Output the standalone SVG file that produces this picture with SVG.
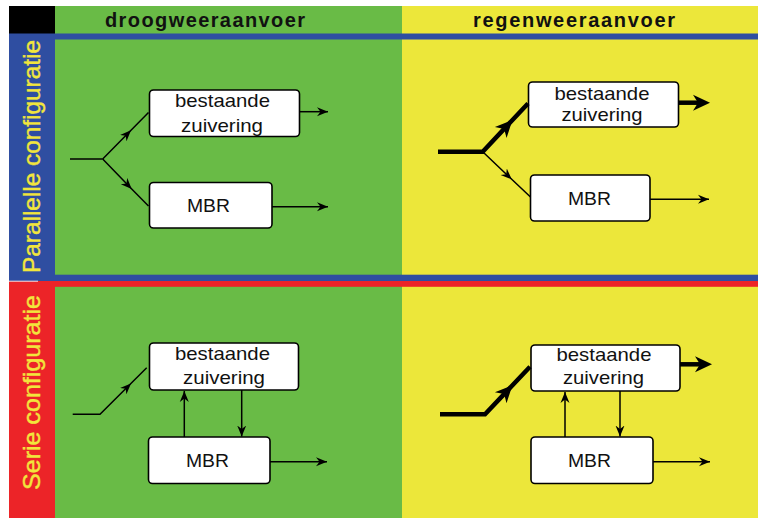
<svg xmlns="http://www.w3.org/2000/svg" width="758" height="518" viewBox="0 0 758 518">
  <style>
    .box { fill: #ffffff; stroke: #000000; stroke-width: 1.6; }
    .lbl { font-family: "Liberation Sans", Arial, sans-serif; font-size: 19px; fill: #111111; }
    .hdr { font-family: "Liberation Sans", Arial, sans-serif; font-size: 20px; font-weight: bold; fill: #111111; }
    .side { font-family: "Liberation Sans", Arial, sans-serif; font-size: 24px; fill: #f2e63c; stroke: #f2e63c; stroke-width: 0.4; }
    .thin { fill: none; stroke: #000000; stroke-width: 1.5; }
    .thick { fill: none; stroke: #000000; stroke-width: 4.5; stroke-linejoin: miter; }
    .guide { fill: none; stroke: none; }
  </style>
  <defs>
    <marker id="arr" markerUnits="userSpaceOnUse" markerWidth="12" markerHeight="10" refX="11" refY="5" orient="auto" viewBox="0 0 12 10">
      <path d="M0,0.5 L11,5 L0,9.5 L3.5,5 z" fill="#000000"/>
    </marker>
    <marker id="arrBig" markerUnits="userSpaceOnUse" markerWidth="18" markerHeight="18" refX="15" refY="9" orient="auto" viewBox="0 0 18 18">
      <path d="M0,1 L17,9 L0,17 L5,9 z" fill="#000000"/>
    </marker>
    <marker id="arrBigEnd" markerUnits="userSpaceOnUse" markerWidth="18" markerHeight="18" refX="7" refY="9" orient="auto" viewBox="0 0 18 18">
      <path d="M0,1 L17,9 L0,17 L5,9 z" fill="#000000"/>
    </marker>
  </defs>

  <!-- background panels -->
  <rect x="0" y="0" width="758" height="518" fill="#ffffff"/>
  <rect x="9" y="6" width="46" height="28" fill="#000000"/>
  <rect x="55" y="6" width="347" height="512" fill="#69bb46"/>
  <rect x="402" y="6" width="356" height="512" fill="#ece73a"/>
  <rect x="9" y="33.5" width="46" height="248" fill="#2f4ea1"/>
  <rect x="9" y="281" width="46" height="237" fill="#ec2428"/>
  <rect x="55" y="33.5" width="703" height="6" fill="#2f4ea1"/>
  <rect x="55" y="274.7" width="703" height="6.5" fill="#2f4ea1"/>
  <rect x="55" y="281" width="703" height="5.8" fill="#ec2428"/>
  <line x1="9" y1="281.2" x2="38" y2="281.2" stroke="#e8e8f0" stroke-width="1"/>

  <!-- column and row headings -->
  <text class="hdr" x="105" y="26.5" textLength="200" lengthAdjust="spacing">droogweeraanvoer</text>
  <text class="hdr" x="473" y="26.5" textLength="202" lengthAdjust="spacing">regenweeraanvoer</text>
  <text class="side" transform="translate(40,273) rotate(-90)" textLength="233" lengthAdjust="spacingAndGlyphs">Parallelle configuratie</text>
  <text class="side" transform="translate(40,490) rotate(-90)" textLength="195" lengthAdjust="spacingAndGlyphs">Serie configuratie</text>

  <!-- parallel, dry weather -->
  <g id="par-dry-bestaande">
    <rect class="box" x="149.5" y="90" width="150" height="46.5" rx="4"/>
    <text class="lbl" x="175" y="107" textLength="95" lengthAdjust="spacingAndGlyphs">bestaande</text>
    <text class="lbl" x="181" y="131.5" textLength="82" lengthAdjust="spacingAndGlyphs">zuivering</text>
  </g>
  <g id="par-dry-mbr">
    <rect class="box" x="149.5" y="182.5" width="122.5" height="45.5" rx="4"/>
    <text class="lbl" x="187" y="211.5" textLength="43" lengthAdjust="spacingAndGlyphs">MBR</text>
  </g>

  <!-- parallel, wet weather -->
  <g id="par-wet-bestaande">
    <rect class="box" x="528.5" y="82" width="150" height="45" rx="4"/>
    <text class="lbl" x="554.5" y="99.5" textLength="95" lengthAdjust="spacingAndGlyphs">bestaande</text>
    <text class="lbl" x="561.5" y="121" textLength="81" lengthAdjust="spacingAndGlyphs">zuivering</text>
  </g>
  <g id="par-wet-mbr">
    <rect class="box" x="530.5" y="175" width="119.5" height="46" rx="4"/>
    <text class="lbl" x="568" y="204.5" textLength="43" lengthAdjust="spacingAndGlyphs">MBR</text>
  </g>

  <!-- serial, dry weather -->
  <g id="ser-dry-bestaande">
    <rect class="box" x="149.5" y="343" width="149" height="47" rx="4"/>
    <text class="lbl" x="175" y="360" textLength="95" lengthAdjust="spacingAndGlyphs">bestaande</text>
    <text class="lbl" x="183" y="383.5" textLength="82" lengthAdjust="spacingAndGlyphs">zuivering</text>
  </g>
  <g id="ser-dry-mbr">
    <rect class="box" x="148.5" y="437" width="121.5" height="46.5" rx="4"/>
    <text class="lbl" x="186" y="466.5" textLength="43" lengthAdjust="spacingAndGlyphs">MBR</text>
  </g>

  <!-- serial, wet weather -->
  <g id="ser-wet-bestaande">
    <rect class="box" x="531" y="345" width="149" height="46" rx="4"/>
    <text class="lbl" x="556.5" y="360.5" textLength="95" lengthAdjust="spacingAndGlyphs">bestaande</text>
    <text class="lbl" x="563" y="384" textLength="81" lengthAdjust="spacingAndGlyphs">zuivering</text>
  </g>
  <g id="ser-wet-mbr">
    <rect class="box" x="531" y="437" width="122" height="46.5" rx="4"/>
    <text class="lbl" x="568" y="466.5" textLength="43" lengthAdjust="spacingAndGlyphs">MBR</text>
  </g>

  <!-- flows -->
  <g id="connectors">
    <!-- parallel, dry -->
    <line class="thin" x1="70" y1="159" x2="102.7" y2="159"/>
    <polyline class="thin" points="102.7,159 131,130.3 148.5,112.5" marker-mid="url(#arr)"/>
    <polyline class="thin" points="102.7,159 131.7,188.9 148.5,206" marker-mid="url(#arr)"/>
    <line class="thin" x1="299.5" y1="111.7" x2="328" y2="111.7" marker-end="url(#arr)"/>
    <line class="thin" x1="272" y1="206.7" x2="328" y2="206.7" marker-end="url(#arr)"/>

    <!-- parallel, wet -->
    <polyline class="thick" points="438,151.7 482.7,151.7 528,103.5"/>
    <polyline class="guide" points="482.7,151.7 511,121.6 528,103.5" marker-mid="url(#arrBig)"/>
    <polyline class="thin" points="482.7,151.7 511.7,179.3 530.5,197" marker-mid="url(#arr)"/>
    <line class="thick" x1="678.5" y1="102.7" x2="700" y2="102.7" marker-end="url(#arrBigEnd)"/>
    <line class="thin" x1="650" y1="199.3" x2="709" y2="199.3" marker-end="url(#arr)"/>

    <!-- serial, dry -->
    <polyline class="thin" points="72.7,414.3 100,414.3 146.7,367.7"/>
    <polyline class="guide" points="100,414.3 131,383.4 146.7,367.7" marker-mid="url(#arr)"/>
    <line class="thin" x1="184.3" y1="437" x2="184.3" y2="391" marker-end="url(#arr)"/>
    <line class="thin" x1="241.7" y1="390" x2="241.7" y2="436.5" marker-end="url(#arr)"/>
    <line class="thin" x1="270" y1="461.7" x2="327" y2="461.7" marker-end="url(#arr)"/>

    <!-- serial, wet -->
    <polyline class="thick" points="440,414.3 485,414.3 530,366.7"/>
    <polyline class="guide" points="485,414.3 511,386.8 530,366.7" marker-mid="url(#arrBig)"/>
    <line class="thick" x1="680" y1="364.3" x2="702" y2="364.3" marker-end="url(#arrBigEnd)"/>
    <line class="thin" x1="565" y1="437" x2="565" y2="392" marker-end="url(#arr)"/>
    <line class="thin" x1="620" y1="391" x2="620" y2="436.5" marker-end="url(#arr)"/>
    <line class="thin" x1="653" y1="461.7" x2="710" y2="461.7" marker-end="url(#arr)"/>
  </g>
</svg>
